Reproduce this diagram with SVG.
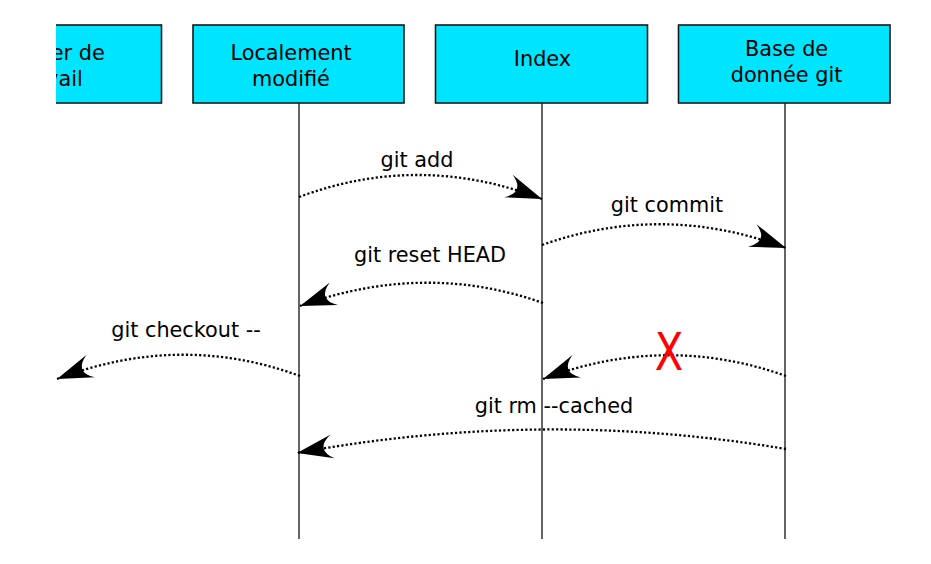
<svg xmlns="http://www.w3.org/2000/svg" width="931" height="564" viewBox="0 0 931 564">
<style>
.box{fill:#00e5ff;stroke:#1a1a1a;stroke-width:1.6}
.t{font-family:"DejaVu Sans",sans-serif;font-size:20.8px;fill:#000;text-anchor:middle}
.life{stroke:#111;stroke-width:1.3;fill:none}
.msg{fill:none;stroke:#000;stroke-width:2.3;stroke-dasharray:2.2 2.2;marker-end:url(#ah)}
</style>
<defs>
<marker id="ah" markerUnits="userSpaceOnUse" orient="auto" refX="0" refY="0" markerWidth="40" markerHeight="30" overflow="visible">
<path d="M0,0 L-36,-12 Q-18,0 -36,12 Z" fill="#000"/>
</marker>
<clipPath id="c1"><rect x="56" y="0" width="200" height="120"/></clipPath>
</defs>
<rect width="931" height="564" fill="#fff"/>
<g id="lifelines">
<line class="life" x1="299" y1="103" x2="299" y2="539"/>
<line class="life" x1="542" y1="103" x2="542" y2="539"/>
<line class="life" x1="785" y1="103" x2="785" y2="539"/>
</g>
<g id="node-travail" clip-path="url(#c1)">
<rect class="box" x="-50" y="25" width="211.5" height="78"/>
<text class="t" x="49.7" y="60">Dossier de</text>
<text class="t" x="49.7" y="86">travail</text>
</g>
<g id="node-local">
<rect class="box" x="193" y="25" width="211" height="78"/>
<text class="t" x="291" y="60">Localement</text>
<text class="t" x="291" y="86">modifié</text>
</g>
<g id="node-index">
<rect class="box" x="435.5" y="25" width="212" height="78"/>
<text class="t" x="542.5" y="65.7">Index</text>
</g>
<g id="node-db">
<rect class="box" x="678.5" y="25" width="211.5" height="78"/>
<text class="t" x="786.5" y="55.7">Base de</text>
<text class="t" x="786.5" y="81.7">donnée git</text>
</g>
<g id="connectors">
<path class="msg" d="M299,197 Q420,152 542,199"/>
<text class="t" x="417" y="167">git add</text>
<path class="msg" d="M542,245 Q663,202 786,248"/>
<text class="t" x="667" y="212">git commit</text>
<path class="msg" d="M543,303 Q425,261 300,306"/>
<text class="t" x="430" y="262">git reset HEAD</text>
<path class="msg" d="M300,376 Q180,332 57,379"/>
<text class="t" x="186" y="337">git checkout --</text>
<path class="msg" d="M786,376 Q665,333 543,379"/>
<text x="669" y="370" transform="translate(669 0) scale(0.8 1) translate(-669 0)" style="font-family:'DejaVu Sans',sans-serif;font-size:52px;fill:#ff0000;text-anchor:middle">X</text>
<path class="msg" d="M786,449 Q543,408 297,453"/>
<text class="t" x="554" y="413">git rm --cached</text>
</g>
</svg>
